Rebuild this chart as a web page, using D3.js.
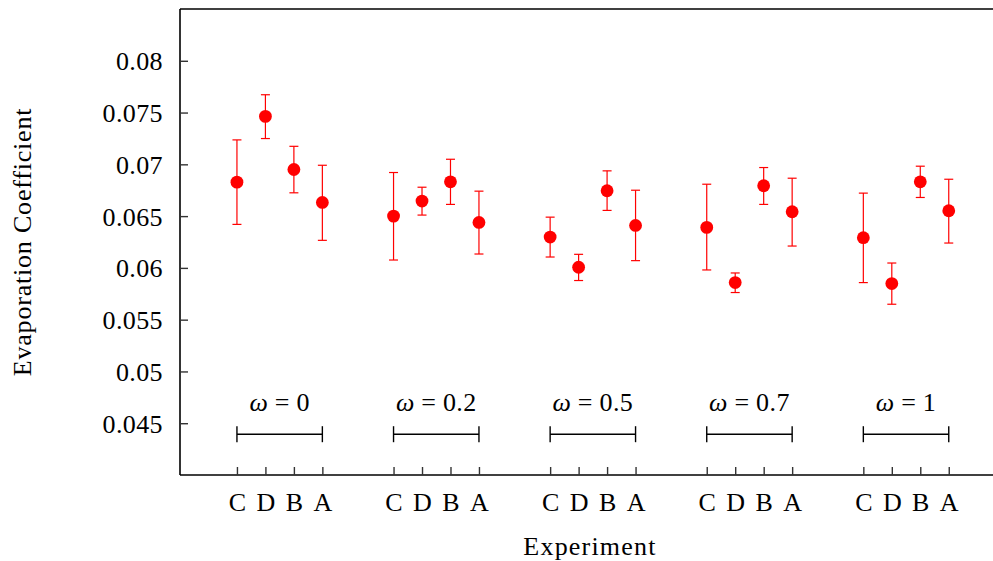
<!DOCTYPE html>
<html>
<head>
<meta charset="utf-8">
<script src="https://cdn.jsdelivr.net/npm/d3@7/dist/d3.min.js"></script>
<style>
  html, body { margin: 0; padding: 0; background: #fff; }
  svg { display: block; }
  text { font-family: "Liberation Serif", "Times New Roman", serif; fill: #000; }
</style>
</head>
<body>
<svg id="chart" width="993" height="561"></svg>
<script>
// Weighting factors, one cluster per value
const omegaLabels = ["0", "0.2", "0.5", "0.7", "1"];
// Experiments inside each cluster, in plotted order
const experiments = ["C", "D", "B", "A"];

// Mean evaporation coefficient per cluster (rows) and experiment (columns C, D, B, A)
const meanValues = [
  [0.06828, 0.07463, 0.06950, 0.06632],
  [0.06500, 0.06645, 0.06831, 0.06439],
  [0.06298, 0.06006, 0.06745, 0.06410],
  [0.06391, 0.05858, 0.06793, 0.06542],
  [0.06292, 0.05849, 0.06831, 0.06552]
];
// Lower end of each error bar
const lowerValues = [
  [0.06420, 0.07249, 0.06725, 0.06266],
  [0.06076, 0.06510, 0.06613, 0.06134],
  [0.06105, 0.05878, 0.06555, 0.06070],
  [0.05980, 0.05762, 0.06613, 0.06211],
  [0.05858, 0.05649, 0.06680, 0.06240]
];
// Upper end of each error bar
const upperValues = [
  [0.07236, 0.07672, 0.07174, 0.06991],
  [0.06921, 0.06779, 0.07049, 0.06741],
  [0.06490, 0.06131, 0.06937, 0.06750],
  [0.06808, 0.05951, 0.06969, 0.06866],
  [0.06722, 0.06047, 0.06982, 0.06856]
];
// Y axis tick values
const yTickValues = [0.045, 0.05, 0.055, 0.06, 0.065, 0.07, 0.075, 0.08];
const yTickLabels = ["0.045", "0.05", "0.055", "0.06", "0.065", "0.07", "0.075", "0.08"];

const svg = d3.select("#chart");
const plotLeft = 180, plotRight = 1000, plotTop = 9, plotBottom = 475;
const clusterStep = 5.5, clusterOffset = 2;

const x = d3.scaleLinear().domain([0, 28.8]).range([plotLeft, plotRight]);
const y = d3.scaleLinear().domain([0.04, 0.085]).range([plotBottom, plotTop]);

const pos = (g, j) => clusterOffset + g * clusterStep + j;

// Flatten into point records
const points = [];
meanValues.forEach((row, g) => row.forEach((v, j) => {
  points.push({ g, j, exp: experiments[j], mean: v, lo: lowerValues[g][j], hi: upperValues[g][j] });
}));

// Frame: left and top lines
svg.append("line").attr("x1", plotLeft).attr("x2", plotLeft).attr("y1", plotTop).attr("y2", plotBottom)
  .attr("stroke", "#000").attr("stroke-width", 1.6);
svg.append("line").attr("x1", plotLeft).attr("x2", plotRight).attr("y1", plotTop).attr("y2", plotTop)
  .attr("stroke", "#000").attr("stroke-width", 1.6);

// Y axis: inward ticks, labels on the left
const yAxis = d3.axisRight(y).tickValues(yTickValues)
  .tickFormat((d, i) => yTickLabels[i]).tickSize(8).tickPadding(0);
const yG = svg.append("g").attr("transform", `translate(${plotLeft},0)`).call(yAxis);
yG.select(".domain").remove();
yG.selectAll(".tick line").attr("stroke", "#333").attr("stroke-width", 1.4);
yG.selectAll(".tick text")
  .attr("x", -17).attr("text-anchor", "end").attr("dy", "0.35em")
  .style("font-family", "'Liberation Serif', serif").style("font-size", "26px")
  .style("letter-spacing", "0.4px").attr("fill", "#000");

// X axis: upward ticks at each experiment, labels below
const tickPositions = points.map(p => pos(p.g, p.j));
const xAxis = d3.axisTop(x).tickValues(tickPositions)
  .tickFormat((d, i) => points[i].exp).tickSize(8).tickSizeOuter(0);
const xG = svg.append("g").attr("transform", `translate(0,${plotBottom})`).call(xAxis);
xG.select(".domain").attr("stroke", "#000").attr("stroke-width", 1.6)
  .attr("d", `M${plotLeft},0H${plotRight}`);
xG.selectAll(".tick line").attr("stroke", "#333").attr("stroke-width", 1.4);
xG.selectAll(".tick text")
  .attr("y", 36).attr("dy", 0).attr("text-anchor", "middle")
  .style("font-family", "'Liberation Serif', serif").style("font-size", "26px").attr("fill", "#000");

// Cluster brackets with omega labels
const bracketValue = 0.04394;
omegaLabels.forEach((lab, g) => {
  const x0 = x(pos(g, 0)), x1 = x(pos(g, experiments.length - 1));
  const yb = y(bracketValue);
  const br = svg.append("g").attr("stroke", "#000").attr("stroke-width", 1.4);
  br.append("line").attr("x1", x0).attr("x2", x1).attr("y1", yb).attr("y2", yb);
  br.append("line").attr("x1", x0).attr("x2", x0).attr("y1", yb - 8).attr("y2", yb + 8);
  br.append("line").attr("x1", x1).attr("x2", x1).attr("y1", yb - 8).attr("y2", yb + 8);
  const t = svg.append("text")
    .attr("x", (x0 + x1) / 2).attr("y", yb - 23)
    .attr("text-anchor", "middle").style("font-size", "26px");
  t.append("tspan").style("font-style", "italic").text("ω");
  t.append("tspan").attr("dx", 7).text("=");
  t.append("tspan").attr("dx", 7).style("letter-spacing", "0.4px").text(lab);
});

// Error bars
const errG = svg.append("g").attr("stroke", "#ff0000").attr("stroke-width", 1.2);
const cap = 4.5;
points.forEach(p => {
  const cx = x(pos(p.g, p.j));
  errG.append("line").attr("x1", cx).attr("x2", cx).attr("y1", y(p.lo)).attr("y2", y(p.hi));
  errG.append("line").attr("x1", cx - cap).attr("x2", cx + cap).attr("y1", y(p.lo)).attr("y2", y(p.lo));
  errG.append("line").attr("x1", cx - cap).attr("x2", cx + cap).attr("y1", y(p.hi)).attr("y2", y(p.hi));
});

// Mean markers
svg.append("g").selectAll("circle").data(points).join("circle")
  .attr("cx", p => x(pos(p.g, p.j)))
  .attr("cy", p => y(p.mean))
  .attr("r", 6.4)
  .attr("fill", "#ff0000");

// Axis titles
svg.append("text").attr("x", (plotLeft + plotRight) / 2).attr("y", 555)
  .attr("text-anchor", "middle").style("font-size", "26px").style("letter-spacing", "1.2px")
  .text("Experiment");
svg.append("text").attr("transform", `translate(31,${(plotTop + plotBottom) / 2}) rotate(-90)`)
  .attr("text-anchor", "middle").style("font-size", "26px").style("letter-spacing", "0.8px")
  .text("Evaporation Coefficient");
</script>
</body>
</html>
